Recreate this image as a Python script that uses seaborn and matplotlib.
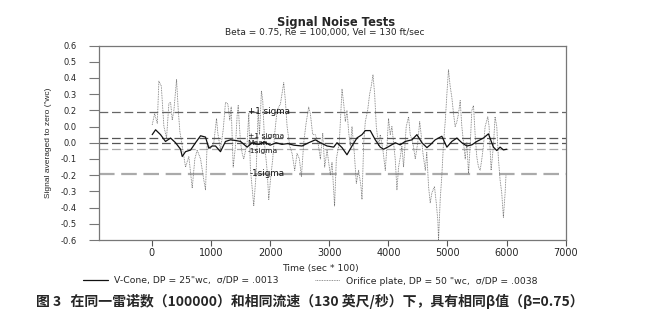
import matplotlib
matplotlib.use("Agg")
import matplotlib.pyplot as plt
import seaborn as sns
import pandas as pd

# ---------------- data ----------------
vcone_t = [5, 62, 146, 230, 316, 400, 485, 513, 569, 654, 738, 823, 907, 963, 1020, 1076,
           1160, 1245, 1330, 1414, 1500, 1611, 1696, 1800, 1900, 2000, 2100, 2200, 2300,
           2400, 2540, 2652, 2765, 2850, 2963, 3075, 3131, 3216, 3300, 3385, 3470, 3554,
           3610, 3694, 3779, 3863, 3920, 4003, 4116, 4201, 4285, 4399, 4483, 4568, 4652,
           4708, 4792, 4905, 4990, 5074, 5159, 5243, 5328, 5412, 5497, 5608, 5693, 5777,
           5834, 5890, 5946, 6003]
vcone_y = [0.05, 0.08, 0.05, 0.008, 0.029, 0.0, -0.04, -0.085, -0.055, -0.045, 0.0, 0.043,
           0.035, -0.034, -0.02, -0.02, -0.055, 0.008, 0.018, 0.014, 0.008, -0.027, 0.0,
           -0.01, 0.005, -0.015, 0.0, -0.01, -0.005, -0.015, -0.02, 0.0, 0.018, 0.0, -0.02,
           -0.027, 0.0, -0.03, -0.074, -0.02, 0.03, 0.05, 0.075, 0.075, 0.018, -0.027, -0.04,
           -0.024, 0.0, -0.013, 0.008, 0.018, 0.05, 0.0, -0.03, -0.013, 0.018, 0.04, -0.027,
           0.008, 0.029, 0.0, -0.02, -0.013, 0.008, 0.029, 0.055, -0.027, -0.048, -0.027,
           -0.044, -0.04]

orifice_t = [5, 46, 91, 118, 159, 203, 248, 287, 316, 344, 372, 417, 446, 473, 513, 569, 625,
             682, 726, 766, 823, 878, 907, 935, 992, 1047, 1093, 1115, 1160, 1206, 1245, 1284,
             1318, 1341, 1375, 1414, 1442, 1460, 1481, 1500, 1527, 1554, 1611, 1639, 1667,
             1684, 1723, 1763, 1797, 1820, 1853, 1875, 1909, 1949, 1977, 2005, 2044, 2078,
             2118, 2174, 2230, 2258, 2287, 2332, 2371, 2416, 2455, 2495, 2529, 2568, 2608,
             2652, 2680, 2720, 2765, 2810, 2850, 2890, 2923, 2963, 3019, 3047, 3090, 3120,
             3170, 3216, 3245, 3272, 3300, 3330, 3357, 3385, 3425, 3458, 3497, 3537, 3554,
             3583, 3610, 3650, 3683, 3711, 3740, 3768, 3796, 3835, 3863, 3908, 3948, 3976,
             4003, 4032, 4060, 4088, 4116, 4145, 4173, 4201, 4229, 4257, 4302, 4342, 4370,
             4415, 4455, 4497, 4530, 4552, 4585, 4625, 4650, 4680, 4708, 4736, 4780, 4810,
             4837, 4849, 4877, 4905, 4933, 4962, 4990, 5017, 5045, 5074, 5102, 5130, 5159,
             5187, 5215, 5243, 5271, 5300, 5328, 5356, 5384, 5412, 5440, 5468, 5497, 5525,
             5553, 5581, 5608, 5637, 5682, 5704, 5738, 5777, 5805, 5834, 5862, 5890, 5918,
             5946, 5975, 5990]
orifice_y = [0.11, 0.18, 0.12, 0.38, 0.35, 0.10, 0.03, 0.24, 0.25, 0.14, 0.20, 0.39, 0.20,
             0.07, -0.02, -0.15, -0.085, -0.28, -0.10, -0.045, -0.10, -0.23, -0.29, 0.0,
             -0.035, 0.0, 0.15, 0.06, -0.045, 0.08, 0.25, 0.24, 0.14, 0.22, -0.15, -0.02,
             0.17, 0.23, 0.10, 0.0, -0.065, -0.10, 0.0, 0.18, -0.17, -0.23, -0.39, -0.19,
             0.20, 0.05, 0.32, 0.26, -0.02, -0.17, -0.35, -0.23, -0.10, 0.06, 0.20, 0.24,
             0.37, 0.26, 0.10, -0.02, -0.065, -0.17, -0.065, -0.10, -0.21, 0.0, 0.12, 0.22,
             0.18, 0.05, 0.05, 0.0, -0.10, 0.06, -0.15, -0.045, -0.20, -0.12, -0.39, -0.10,
             0.0, 0.33, 0.24, 0.13, 0.20, 0.06, -0.02, 0.10, -0.07, -0.25, -0.17, -0.27,
             -0.35, 0.0, 0.13, 0.20, 0.30, 0.35, 0.42, 0.30, 0.10, -0.02, 0.05, -0.045,
             -0.17, -0.02, 0.15, 0.05, 0.10, 0.0, -0.10, -0.29, -0.15, -0.09, -0.02, -0.15,
             0.10, 0.16, 0.05, 0.0, -0.10, 0.0, 0.13, 0.06, -0.065, -0.17, -0.06, -0.27,
             -0.37, -0.31, -0.27, -0.37, -0.48, -0.60, -0.35, -0.20, 0.0, 0.13, 0.30, 0.45,
             0.35, 0.28, 0.18, 0.10, 0.13, 0.18, 0.26, 0.10, 0.0, -0.10, 0.0, -0.19, -0.02,
             0.20, 0.23, 0.05, -0.09, -0.15, -0.17, -0.10, -0.02, 0.10, 0.16, 0.10, -0.17,
             -0.02, 0.16, 0.10, -0.10, -0.23, -0.31, -0.46, -0.31, -0.20]

vcone_label = 'V-Cone, DP = 25"wc,  \u03c3/DP = .0013'
orifice_label = 'Orifice plate, DP = 50 "wc,  \u03c3/DP = .0038'

ref_levels = [0.19, 0.027, 0.0, -0.037, -0.19]
ref_labels = ["+1 sigma", "+1 sigma", "Mean", "-1sigma", "-1sigma"]

x_ticks = [0, 1000, 2000, 3000, 4000, 5000, 6000, 7000]
y_ticks = [0.6, 0.5, 0.4, 0.3, 0.2, 0.1, 0.0, -0.1, -0.2, -0.3, -0.4, -0.5, -0.6]
y_tick_labels = ["0.6", "0.5", "0.4", "0.3", "0.2", "0.0", "0.0", "-0.1", "-0.2",
                 "-0.3", "-0.4", "-0.5", "-0.6"]

title = "Signal Noise Tests"
subtitle = "Beta = 0.75, Re = 100,000, Vel = 130 ft/sec"
xlabel = "Time (sec * 100)"
ylabel = 'Signal averaged to zero ("wc)'
caption = "图 3   在同一雷诺数（100000）和相同流速（130 英尺/秒）下，具有相同β值（β=0.75）"

# ---------------- plot ----------------
sns.set_style("ticks")
plt.rcParams["font.family"] = ["DejaVu Sans"]

df_v = pd.DataFrame({"t": vcone_t, "v": vcone_y})
df_o = pd.DataFrame({"t": orifice_t, "v": orifice_y})

fig = plt.figure(figsize=(6.47, 3.25), dpi=100)
ax = fig.add_axes([98.7 / 647, 1 - 240 / 325, (565.7 - 98.7) / 647, (240 - 45.5) / 325])

# reference lines
line_styles = [("#666666", 0.9), ("#555555", 0.9), ("#555555", 0.9), ("#aaaaaa", 0.9),
               ("#aaaaaa", 1.6)]
for lvl, (c, lw) in zip(ref_levels, line_styles):
    ax.axhline(lvl, color=c, lw=lw, ls=(0, (7, 3)), zorder=1)

sns.lineplot(data=df_o, x="t", y="v", color="#707070", lw=0.6, ls=(0, (1, 1)),
             estimator=None, sort=False, ax=ax, label=orifice_label, zorder=2)
sns.lineplot(data=df_v, x="t", y="v", color="#111111", lw=0.9,
             estimator=None, sort=False, ax=ax, label=vcone_label, zorder=3)

label_pos = [(1620, 0.19), (1620, 0.043), (1620, -0.003), (1620, -0.05), (1650, -0.19)]
label_sizes = [6.3, 5.4, 5.4, 5.4, 6.3]
for (x, y), s, fs in zip(label_pos, ref_labels, label_sizes):
    ax.text(x, y, s, fontsize=fs, color="#111111", va="center", ha="left", zorder=4)

ax.set_xlim(-900, 7000)
ax.set_ylim(-0.6, 0.6)
ax.set_xticks(x_ticks)
ax.set_xticklabels([str(v) for v in x_ticks])
ax.set_yticks(y_ticks)
ax.set_yticklabels(y_tick_labels)
ax.tick_params(axis="x", labelsize=7, length=4, width=0.8, color="#555555", pad=2)
ax.tick_params(axis="y", labelsize=6, length=7, width=0.8, color="#777777", pad=9)
for sp in ax.spines.values():
    sp.set_color("#777777")
    sp.set_linewidth(0.9)
ax.set_xlabel("")
ax.set_ylabel(ylabel, fontsize=6, family=["Liberation Sans", "DejaVu Sans"])
ax.yaxis.set_label_coords(-0.1, 0.5)

handles, labels = ax.get_legend_handles_labels()
order = [labels.index(vcone_label), labels.index(orifice_label)]
handles = [handles[i] for i in order]
labels = [labels[i] for i in order]
if ax.get_legend() is not None:
    ax.get_legend().remove()
fig.legend(handles, labels, ncol=2, loc="center", bbox_to_anchor=(0.479, 1 - 281 / 325),
           frameon=False, fontsize=6.7, handlelength=2.7, handletextpad=0.65,
           columnspacing=3.9)

fig.text(336 / 647, 1 - 22.5 / 325, title, ha="center", va="center", fontsize=8.3,
         fontweight="bold")
fig.text(325 / 647, 1 - 33 / 325, subtitle, ha="center", va="center", fontsize=6.5)
fig.text(320 / 647, 1 - 268 / 325, xlabel, ha="center", va="center", fontsize=6.7)
fig.text(310 / 647, 1 - 301.5 / 325, caption, ha="center", va="center", fontsize=10,
         fontweight="bold", family=["Noto Sans CJK SC", "DejaVu Sans"])

fig.savefig("out.png", dpi=100)
